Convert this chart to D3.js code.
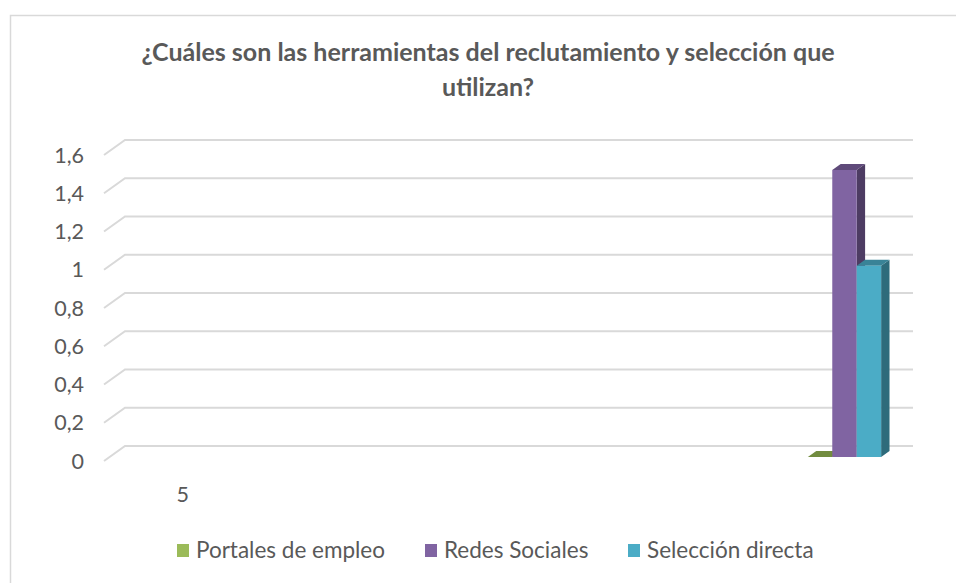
<!DOCTYPE html>
<html>
<head>
<meta charset="utf-8">
<script src="https://cdn.jsdelivr.net/npm/d3@7"></script>
<style>
  body { margin: 0; background: #fff; }
  svg { display: block; font-family: Lato, "Open Sans", sans-serif; }
</style>
</head>
<body>
<svg width="956" height="583"></svg>
<script>
var svg = d3.select("svg"),
    width = +svg.attr("width"),
    height = +svg.attr("height");

// data
var categories = ["5", "", "", "", ""];
var seriesNames = ["Portales de empleo", "Redes Sociales", "Selección directa"];
var portales = [null, null, null, null, 0];
var redes = [null, null, null, null, 1.5];
var seleccion = [null, null, null, null, 1];
var yTicks = [0, 0.2, 0.4, 0.6, 0.8, 1, 1.2, 1.4, 1.6];
var titleLines = ["¿Cuáles son las herramientas del reclutamiento y selección que", "utilizan?"];

var seriesValues = [portales, redes, seleccion];
var front = ["#9BBB59", "#8064A2", "#4BACC6"];
var side = ["#5E7433", "#4D3C63", "#2E6B7B"];
var top_ = ["#728C3F", "#5F4A7A", "#398397"];

var textColor = "#595959";
var gridColor = "#D9D9D9";

// comma as decimal mark
var locale = d3.formatLocale({decimal: ",", thousands: ".", grouping: [3], currency: ["", ""]});
var fmt = function(d) { return locale.format("~g")(d); };

// chart frame
svg.append("rect")
    .attr("x", 10.5).attr("y", 15.5)
    .attr("width", 960).attr("height", 600)
    .attr("fill", "none")
    .attr("stroke", gridColor)
    .attr("stroke-width", 1.5);

// title
svg.append("g").selectAll("text")
  .data(titleLines)
  .enter().append("text")
    .attr("x", 488)
    .attr("y", function(d, i) { return 61 + i * 35; })
    .attr("text-anchor", "middle")
    .attr("font-weight", "bold")
    .attr("font-size", 25)
    .attr("fill", textColor)
    .text(function(d) { return d; });

// back-wall scales; depth offset for the oblique 3D look
var y = d3.scaleLinear().domain([0, 1.6]).range([446, 140]);
var x = d3.scaleBand().domain(d3.range(categories.length)).range([125, 913]);
var depthX = -21, depthY = 15;

// z: 0 = front edge of floor, 1 = back wall
function proj(xb, v, z) {
  return [xb + depthX * (1 - z), y(v) + depthY * (1 - z)];
}

// gridlines
var grid = svg.append("g");
yTicks.forEach(function(t) {
  var a = proj(x.range()[0], t, 0), b = proj(x.range()[0], t, 1), c = proj(x.range()[1], t, 1);
  grid.append("path")
    .attr("d", "M" + a + "L" + b + "L" + c)
    .attr("fill", "none")
    .attr("stroke", gridColor)
    .attr("stroke-width", 2);
});

// y labels
svg.append("g").selectAll("text")
  .data(yTicks)
  .enter().append("text")
    .attr("x", 84)
    .attr("y", function(d) { return proj(0, d, 0)[1] + 7.5; })
    .attr("text-anchor", "end")
    .attr("font-size", 21.5)
    .attr("fill", textColor)
    .text(fmt);

// category labels
svg.append("g").selectAll("text")
  .data(categories)
  .enter().append("text")
    .attr("x", function(d, i) { return proj(x(i) + x.bandwidth() / 2, 0, 0)[0]; })
    .attr("y", 502)
    .attr("text-anchor", "middle")
    .attr("font-size", 21.5)
    .attr("fill", textColor)
    .text(function(d) { return d; });

// series position inside a category
var xs = d3.scaleBand().domain(d3.range(seriesNames.length))
    .range([x.bandwidth() * 0.43, x.bandwidth() * 0.895]);

var zFront = 0.27, zBack = 0.67;
var bars = [];
seriesValues.forEach(function(vals, s) {
  vals.forEach(function(v, i) {
    if (v === null) return;
    bars.push({s: s, i: i, v: v});
  });
});

var gBars = svg.append("g");
bars.forEach(function(b) {
  var x0 = x(b.i) + xs(b.s), x1 = x0 + xs.bandwidth();
  var fTL = proj(x0, b.v, zFront), fTR = proj(x1, b.v, zFront),
      fBL = proj(x0, 0, zFront), fBR = proj(x1, 0, zFront),
      bTL = proj(x0, b.v, zBack), bTR = proj(x1, b.v, zBack),
      bBR = proj(x1, 0, zBack);
  // right side
  gBars.append("path")
    .attr("d", "M" + fTR + "L" + bTR + "L" + bBR + "L" + fBR + "Z")
    .attr("fill", side[b.s]);
  // top
  gBars.append("path")
    .attr("d", "M" + fTL + "L" + bTL + "L" + bTR + "L" + fTR + "Z")
    .attr("fill", top_[b.s]);
  // front
  gBars.append("path")
    .attr("d", "M" + fTL + "L" + fTR + "L" + fBR + "L" + fBL + "Z")
    .attr("fill", front[b.s]);
});

// legend
var legendX = [177, 425, 628];
var lg = svg.append("g").selectAll("g")
  .data(seriesNames)
  .enter().append("g")
    .attr("transform", function(d, i) { return "translate(" + legendX[i] + ",544)"; });
lg.append("rect")
    .attr("width", 12).attr("height", 13)
    .attr("fill", function(d, i) { return front[i]; });
lg.append("text")
    .attr("x", 19)
    .attr("y", 14)
    .attr("font-size", 22.5)
    .attr("fill", textColor)
    .text(function(d) { return d; });
</script>
</body>
</html>
